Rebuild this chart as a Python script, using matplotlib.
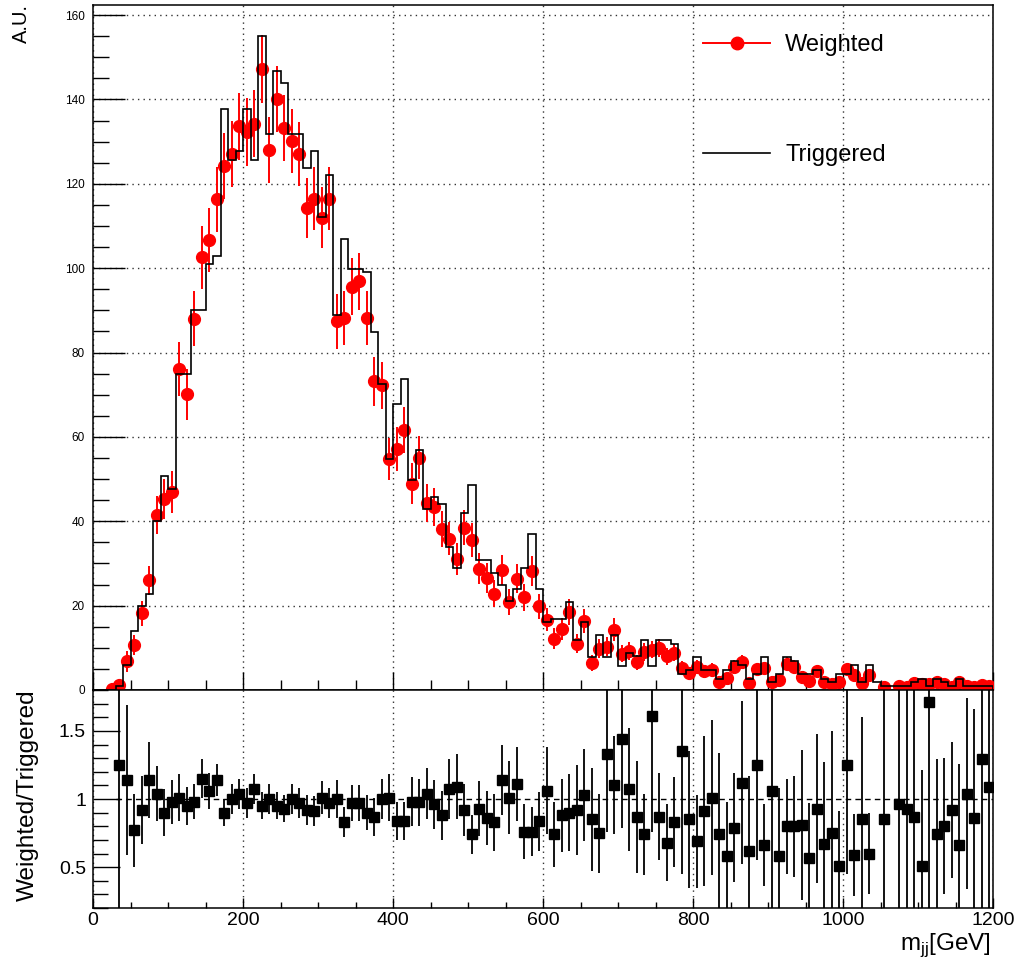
import numpy as np
import matplotlib
matplotlib.use("Agg")
import matplotlib.pyplot as plt
from matplotlib.lines import Line2D
from matplotlib.ticker import MultipleLocator

plt.rcParams["font.family"] = ["Liberation Sans", "DejaVu Sans"]
plt.rcParams["mathtext.fontset"] = "custom"
plt.rcParams["mathtext.rm"] = "Liberation Sans"

# 10 GeV bins from 0 to 1200
bin_edges = np.arange(0, 1210, 10)

triggered = [
    0, 0, 0, 1.0, 6.0, 13.9, 19.8, 22.8, 40.0, 50.7,
    47.7, 75.0, 75.0, 90.0, 90.0, 101.0, 103.0, 137.8, 125.7, 127.8,
    137.8, 125.7, 155.0, 131.9, 146.8, 143.8, 131.7, 131.7, 123.8, 127.8,
    112.1, 122.2, 88.8, 107.0, 99.8, 99.8, 99.0, 84.8, 72.6, 54.8,
    67.9, 73.8, 49.7, 56.8, 43.0, 45.7, 44.0, 33.9, 29.0, 41.9,
    48.7, 30.9, 30.9, 27.7, 25.0, 21.1, 24.0, 29.0, 37.0, 24.0,
    16.1, 16.9, 16.9, 20.9, 11.8, 16.1, 7.8, 13.0, 7.8, 13.0,
    5.8, 8.8, 8.0, 11.8, 5.8, 11.8, 11.8, 11.0, 3.9, 4.8,
    7.8, 4.8, 4.8, 2.7, 4.8, 6.8, 5.9, 2.7, 3.9, 7.8,
    1.9, 3.9, 7.8, 6.8, 3.9, 3.9, 4.8, 2.7, 1.9, 3.9,
    3.9, 5.9, 1.9, 5.9, 1.9, 0.9, 0.9, 0.9, 0.9, 1.9,
    2.7, 0.9, 2.7, 1.9, 0.9, 2.7, 0.9, 0.9, 0.9, 0.9,
]

weighted = [
    0, 0, 0.3, 1.25, 6.8, 10.6, 18.2, 26.0, 41.4, 45.3,
    46.9, 76.1, 70.1, 88.0, 102.6, 106.7, 116.3, 124.2, 127.0, 133.6,
    132.3, 134.3, 147.2, 128.1, 140.2, 133.2, 130.1, 127.1, 114.3, 116.5,
    112.0, 116.5, 87.4, 88.2, 95.6, 96.9, 88.2, 73.2, 72.2, 54.8,
    57.2, 61.7, 48.9, 55.1, 44.3, 43.4, 38.2, 35.9, 31.1, 38.5,
    35.6, 28.8, 26.6, 22.8, 28.4, 20.9, 26.4, 22.0, 28.2, 19.8,
    16.7, 12.2, 14.5, 18.5, 11.0, 16.4, 6.4, 9.8, 10.3, 14.3,
    8.6, 9.2, 6.6, 9.0, 9.6, 10.0, 8.0, 8.8, 5.2, 4.1,
    5.4, 4.4, 4.8, 2.0, 2.8, 5.4, 6.6, 1.7, 4.9, 5.1,
    2.0, 2.3, 6.2, 5.4, 3.2, 2.2, 4.5, 1.8, 1.4, 2.0,
    4.9, 3.5, 1.6, 3.5, 0, 0.8, 0, 0.9, 0.8, 1.7,
    1.4, 1.5, 2.0, 1.5, 0.8, 1.8, 0.9, 0.8, 1.2, 1.0,
]

weighted_err = [
    0, 0, 0.4, 1.2, 2.5, 2.4, 3.0, 3.5, 4.5, 4.8,
    5.0, 6.3, 6.0, 6.5, 7.5, 7.5, 7.8, 7.8, 7.8, 8.0,
    8.0, 8.0, 8.0, 7.8, 7.8, 7.8, 7.6, 7.6, 7.2, 7.4,
    7.2, 7.5, 6.5, 6.5, 6.8, 6.8, 6.5, 5.8, 5.6, 5.0,
    5.2, 5.4, 4.8, 5.0, 4.5, 4.5, 4.2, 4.0, 3.8, 4.2,
    4.0, 3.6, 3.5, 3.2, 3.6, 3.1, 3.5, 3.2, 3.6, 3.0,
    2.8, 2.4, 2.6, 3.0, 2.3, 2.8, 1.8, 2.2, 2.3, 2.7,
    2.0, 2.1, 1.8, 2.1, 2.1, 2.2, 2.0, 2.0, 1.6, 1.4,
    1.6, 1.4, 1.5, 1.0, 1.2, 1.6, 1.7, 0.9, 1.5, 1.6,
    1.0, 1.1, 1.7, 1.6, 1.2, 1.0, 1.4, 0.9, 0.8, 1.0,
    1.5, 1.3, 0.9, 1.3, 0, 0.7, 0, 0.7, 0.7, 0.9,
    0.8, 0.9, 1.0, 0.9, 0.7, 0.9, 0.7, 0.7, 0.8, 0.7,
]

nan = np.nan
ratio = [
    nan, nan, nan, 1.25, 1.14, 0.77, 0.92, 1.14, 1.04, 0.90,
    0.98, 1.01, 0.95, 0.98, 1.15, 1.06, 1.14, 0.90, 1.00, 1.04,
    0.97, 1.07, 0.95, 1.00, 0.95, 0.93, 1.00, 0.97, 0.92, 0.91,
    1.01, 0.97, 1.00, 0.83, 0.97, 0.97, 0.90, 0.87, 1.00, 1.01,
    0.84, 0.84, 0.98, 0.975, 1.04, 0.96, 0.88, 1.07, 1.09, 0.92,
    0.74, 0.93, 0.86, 0.83, 1.14, 1.01, 1.11, 0.76, 0.76, 0.835,
    1.06, 0.74, 0.88, 0.90, 0.92, 1.03, 0.85, 0.75, 1.33, 1.10,
    1.44, 1.07, 0.87, 0.74, 1.61, 0.87, 0.68, 0.83, 1.35, 0.85,
    0.69, 0.91, 1.01, 0.74, 0.58, 0.79, 1.12, 0.62, 1.25, 0.66,
    1.06, 0.58, 0.80, 0.80, 0.81, 0.57, 0.93, 0.67, 0.75, 0.51,
    1.25, 0.59, 0.85, 0.60, nan, 0.85, nan, 0.96, 0.93, 0.87,
    0.51, 1.71, 0.74, 0.80, 0.92, 0.66, 1.04, 0.86, 1.29, 1.09,
]

ratio_err = [
    nan, nan, nan, 1.5, 0.55, 0.27, 0.25, 0.28, 0.20, 0.17,
    0.16, 0.17, 0.14, 0.13, 0.14, 0.13, 0.12, 0.10, 0.11, 0.11,
    0.11, 0.11, 0.10, 0.11, 0.10, 0.10, 0.11, 0.11, 0.11, 0.11,
    0.12, 0.11, 0.14, 0.11, 0.13, 0.13, 0.13, 0.14, 0.15, 0.17,
    0.14, 0.14, 0.18, 0.17, 0.19, 0.18, 0.18, 0.22, 0.24, 0.19,
    0.14, 0.20, 0.20, 0.21, 0.26, 0.27, 0.27, 0.20, 0.18, 0.22,
    0.32, 0.24, 0.27, 0.28, 0.33, 0.34, 0.38, 0.29, 0.57, 0.36,
    0.65, 0.45, 0.41, 0.30, 0.85, 0.32, 0.28, 0.33, 0.90, 0.50,
    0.34, 0.55, 0.57, 0.60, 0.40, 0.40, 0.60, 0.55, 0.70, 0.30,
    1.00, 0.50, 0.35, 0.37, 0.55, 0.40, 0.55, 0.60, 0.75, 0.40,
    0.80, 0.30, 0.75, 0.30, nan, 1.00, nan, 1.30, 1.30, 1.30,
    0.70, 2.00, 0.55, 0.50, 0.50, 0.60, 0.70, 0.80, 1.20, 1.00,
]

centers = 0.5 * (bin_edges[:-1] + bin_edges[1:])
weighted = np.array(weighted)
weighted_err = np.array(weighted_err)
ratio = np.array(ratio)
ratio_err = np.array(ratio_err)

W, H = 1018, 969
fig = plt.figure(figsize=(W / 100, H / 100), dpi=100)
ax1 = fig.add_axes([93 / W, 1 - 690 / H, 900 / W, 685 / H])
ax2 = fig.add_axes([93 / W, 1 - 908 / H, 900 / W, 218 / H])

# top panel: triggered histogram + weighted points
ax1.stairs(triggered, bin_edges, color="black", lw=1.2, zorder=4)
m = weighted > 0
ax1.errorbar(centers[m], weighted[m], yerr=weighted_err[m], fmt="o",
             color="red", ms=8.5, elinewidth=1.4, capsize=0, zorder=3)

ax1.set_xlim(0, 1200)
ax1.set_ylim(0, 162.4)
ax1.xaxis.set_major_locator(MultipleLocator(200))
ax1.xaxis.set_minor_locator(MultipleLocator(50))
ax1.yaxis.set_major_locator(MultipleLocator(20))
ax1.yaxis.set_minor_locator(MultipleLocator(5))
ax1.tick_params(axis="x", which="major", direction="in", length=13, width=1, labelbottom=False)
ax1.tick_params(axis="x", which="minor", direction="in", length=7, width=1)
ax1.tick_params(axis="y", which="major", direction="in", length=23, width=1, labelsize=8.5, pad=6)
ax1.tick_params(axis="y", which="minor", direction="in", length=11.5, width=1)
ax1.grid(True, which="major", linestyle=(0, (1, 3)), color="#333333", lw=1)

h_w = Line2D([], [], color="red", marker="o", ms=9, lw=1.4)
h_t = Line2D([], [], color="black", lw=1.2)
ax1.legend([h_w, h_t], ["Weighted", "Triggered"], loc="upper left",
           bbox_to_anchor=(703 / W, 1 - 34.5 / H), bbox_transform=fig.transFigure,
           frameon=False, fontsize=17, handlelength=2.84, handletextpad=0.64,
           labelspacing=3.7, borderpad=0, borderaxespad=0)

# ratio panel
ax2.errorbar(centers, ratio, yerr=ratio_err, fmt="s", color="black",
             ms=7.5, elinewidth=1.3, capsize=0, zorder=3)
ax2.hlines(1.0, 30, 1200, colors="black", linestyles=(0, (4, 3)), lw=1)
ax2.set_xlim(0, 1200)
ax2.set_ylim(0.2, 1.8)
ax2.xaxis.set_major_locator(MultipleLocator(200))
ax2.xaxis.set_minor_locator(MultipleLocator(50))
ax2.yaxis.set_minor_locator(MultipleLocator(0.1))
ax2.set_yticks([0.5, 1.0, 1.5])
ax2.set_yticklabels(["0.5", "1", "1.5"])
ax2.tick_params(axis="x", which="major", direction="in", length=7, width=1, labelsize=14, pad=3)
ax2.tick_params(axis="x", which="minor", direction="in", length=4, width=1)
ax2.tick_params(axis="y", which="major", direction="in", length=19.5, width=1, labelsize=14, pad=5)
ax2.tick_params(axis="y", which="minor", direction="in", length=11, width=1)
ax2.grid(True, axis="x", which="major", linestyle=(0, (1, 3)), color="#333333", lw=1)

for ax in (ax1, ax2):
    for s in ax.spines.values():
        s.set_linewidth(1.1)

fig.text(21 / W, 1 - 4 / H, "A.U.", rotation=90, ha="center", va="top", fontsize=14.5)
fig.text(28 / W, 1 - 795 / H, "Weighted/Triggered", rotation=90, ha="center", va="center", fontsize=17.5)
fig.text(991 / W, 1 - 945 / H, r"m$_{\mathrm{jj}}$[GeV]", ha="right", va="center", fontsize=17.5)

fig.savefig("out.png", dpi=100)
